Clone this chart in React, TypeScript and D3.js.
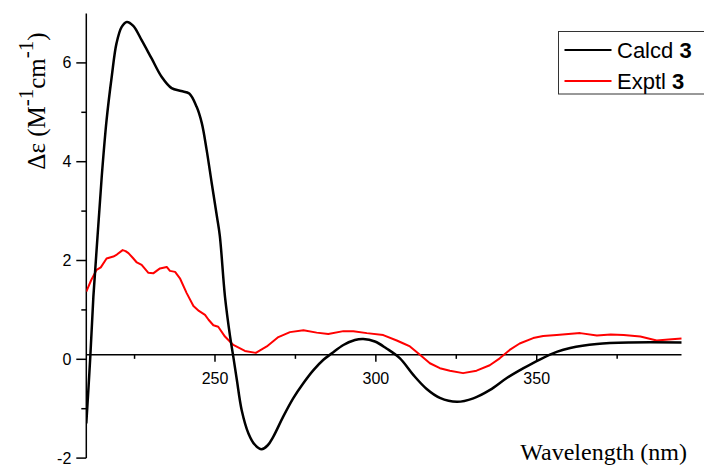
import React from "react";
import * as d3 from "d3";

const calcdNm = [210, 211.2, 212.2, 213.5, 214.8, 216.3, 217.9, 219.4, 221, 222.6, 224.6, 227.2, 230.3, 233.4, 236.5, 239.5, 242, 244.3, 245.9, 247.4, 249, 250.6, 251.5, 253.1, 254.7, 255.7, 256.8, 258.3, 260.4, 262.4, 264.5, 266.4, 268.1, 271.2, 274.3, 277.4, 280.6, 283.7, 286.3, 289.9, 293.5, 296.1, 299.7, 303.3, 307.5, 311.7, 315.8, 319.9, 325.2, 330.3, 335.5, 340.7, 345.9, 351.1, 356.2, 360.4, 368.7, 378.8, 395];
const calcdVal = [-1.3, 0.0, 1.27, 2.5, 3.7, 4.84, 5.72, 6.4, 6.73, 6.83, 6.75, 6.46, 6.09, 5.72, 5.49, 5.43, 5.38, 5.11, 4.78, 4.24, 3.56, 2.89, 2.5, 1.27, 0.46, 0.05, -0.42, -1.03, -1.5, -1.73, -1.82, -1.74, -1.57, -1.16, -0.79, -0.49, -0.22, -0.01, 0.12, 0.29, 0.39, 0.41, 0.36, 0.22, 0.02, -0.32, -0.6, -0.78, -0.86, -0.79, -0.62, -0.38, -0.18, 0.0, 0.15, 0.23, 0.31, 0.34, 0.34];

const exptlNm = [210, 211.5, 213.2, 214.5, 216.3, 218.4, 219.5, 221.3, 222.2, 223.1, 224.5, 225.7, 227.2, 229.3, 230.8, 232.9, 235, 236, 237.6, 239.1, 241.2, 243.3, 245, 246.9, 248, 249.5, 251, 253.1, 255.7, 259.3, 262.7, 264, 266.1, 269.7, 273.3, 277.5, 281.6, 285.2, 289.9, 293, 297.2, 302.3, 306.5, 308.6, 310.6, 313.7, 316.8, 319.9, 323, 327.1, 331.3, 335.4, 338.5, 341.6, 344.7, 348.9, 352, 356.2, 363.5, 368.7, 373, 377, 382.2, 387.3, 391, 395];
const exptlVal = [1.37, 1.6, 1.81, 1.86, 2.04, 2.08, 2.12, 2.21, 2.19, 2.15, 2.05, 1.96, 1.91, 1.75, 1.74, 1.84, 1.87, 1.79, 1.77, 1.64, 1.34, 1.08, 0.98, 0.9, 0.8, 0.69, 0.66, 0.46, 0.29, 0.17, 0.13, 0.18, 0.26, 0.45, 0.55, 0.59, 0.54, 0.51, 0.57, 0.57, 0.53, 0.49, 0.38, 0.32, 0.26, 0.09, -0.08, -0.18, -0.23, -0.28, -0.23, -0.12, 0.02, 0.19, 0.32, 0.43, 0.47, 0.49, 0.53, 0.48, 0.5, 0.49, 0.46, 0.38, 0.4, 0.42];

const xMajorTicks = [250, 300, 350];
const xMinorTicks = [225, 275, 325, 375];
const yMajorTicks = [-2, 0, 2, 4, 6];
const yMinorTicks = [-1, 1, 3, 5];
const seriesNames = ["Calcd", "Exptl"];
const seriesColors = ["#000000", "#ff0000"];
const xAxisValue = 0.09;

const W = 704;
const H = 465;

export default function App() {
  const x = d3.scaleLinear().domain([210, 395]).range([86.3, 681.5]);
  const y = d3.scaleLinear().domain([-2, 7]).range([458.1, 13.5]);

  const calcd = calcdNm.map((n, i) => [n, calcdVal[i]] as [number, number]);
  const exptl = exptlNm.map((n, i) => [n, exptlVal[i]] as [number, number]);

  const smooth = d3
    .line<[number, number]>()
    .x((d) => x(d[0]))
    .y((d) => y(d[1]))
    .curve(d3.curveCatmullRom.alpha(0.5));
  const lin = d3
    .line<[number, number]>()
    .x((d) => x(d[0]))
    .y((d) => y(d[1]))
    .curve(d3.curveLinear);

  const axY = y(xAxisValue);
  const left = x(210);
  const sans = "Arial, 'Liberation Sans', sans-serif";
  const serif = "'Times New Roman', 'Liberation Serif', serif";

  return (
    <svg
      width={W}
      height={H}
      style={{ position: "absolute", left: 0, top: 0, background: "#fff" }}
    >
      <rect x={0} y={0} width={W} height={H} fill="#fff" />
      <defs>
        <clipPath id="plot">
          <rect x={left} y={0} width={x(395) - left + 2} height={H} />
        </clipPath>
      </defs>

      {/* Y axis */}
      <line x1={left} x2={left} y1={y(7)} y2={y(-2)} stroke="#000" strokeWidth={1.5} />
      {yMajorTicks.map((t) => (
        <g key={"ym" + t}>
          <line x1={left - 10} x2={left} y1={y(t)} y2={y(t)} stroke="#000" strokeWidth={1.5} />
          <text x={left - 15} y={y(t) + 5.5} textAnchor="end" fontFamily={sans} fontSize={16}>
            {t}
          </text>
        </g>
      ))}
      {yMinorTicks.map((t) => (
        <line key={"yn" + t} x1={left - 5} x2={left} y1={y(t)} y2={y(t)} stroke="#000" strokeWidth={1.5} />
      ))}

      {/* X axis */}
      <line x1={left} x2={x(395)} y1={axY} y2={axY} stroke="#000" strokeWidth={1.5} />
      {xMajorTicks.map((t) => (
        <g key={"xm" + t}>
          <line x1={x(t)} x2={x(t)} y1={axY} y2={axY + 7} stroke="#000" strokeWidth={1.5} />
          <text x={x(t)} y={axY + 29} textAnchor="middle" fontFamily={sans} fontSize={16}>
            {t}
          </text>
        </g>
      ))}
      {xMinorTicks.map((t) => (
        <line key={"xn" + t} x1={x(t)} x2={x(t)} y1={axY} y2={axY + 4} stroke="#000" strokeWidth={1.5} />
      ))}

      {/* Curves */}
      <g clipPath="url(#plot)">
        <path d={lin(exptl) || ""} fill="none" stroke={seriesColors[1]} strokeWidth={2} strokeLinejoin="round" />
        <path d={smooth(calcd) || ""} fill="none" stroke={seriesColors[0]} strokeWidth={2.5} strokeLinejoin="round" />
      </g>

      {/* Axis titles */}
      <text x={687} y={460} textAnchor="end" fontFamily={serif} fontSize={24}>
        Wavelength (nm)
      </text>
      <text
        transform={`translate(45, 101) rotate(-90)`}
        textAnchor="middle"
        fontFamily={serif}
        fontSize={25}
      >
        Δε (M
        <tspan baselineShift="super" fontSize={21}>-1</tspan>
        cm
        <tspan baselineShift="super" fontSize={21}>-1</tspan>)
      </text>

      {/* Legend */}
      <rect x={558.5} y={31.5} width={160} height={62.5} fill="#fff" stroke="#333" strokeWidth={1} />
      {seriesNames.map((name, i) => (
        <g key={name}>
          <line
            x1={564.5}
            x2={611.5}
            y1={50 + i * 31}
            y2={50 + i * 31}
            stroke={seriesColors[i]}
            strokeWidth={2}
          />
          <text x={617} y={57.5 + i * 31} fontFamily={sans} fontSize={22}>
            {name} <tspan fontWeight="bold">3</tspan>
          </text>
        </g>
      ))}
    </svg>
  );
}
